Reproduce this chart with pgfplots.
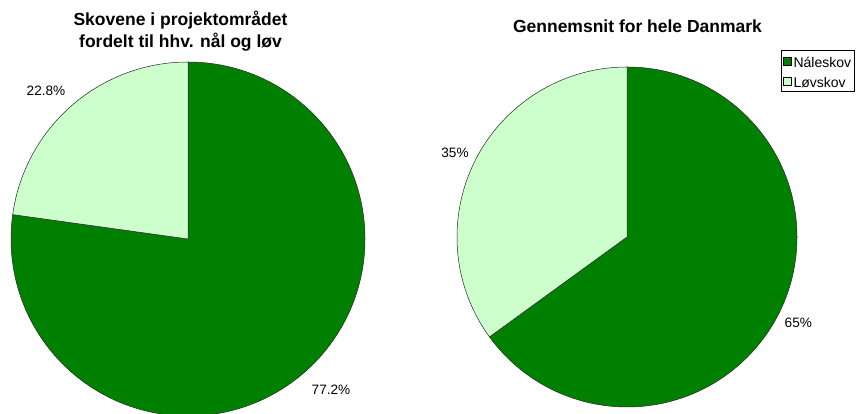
\documentclass[border=0pt]{standalone}
\usepackage{fontspec}
\setmainfont{Liberation Sans}
\usepackage{pgfplots}
\pgfplotsset{compat=1.18}
\definecolor{dkgreen}{RGB}{0,128,0}
\definecolor{ltgreen}{RGB}{204,255,204}
% data (percent)
\def\LeftNaal{77.2}\def\LeftLoev{22.8}
\def\RightNaal{65}\def\RightLoev{35}
\newcommand\legstrut{\rule[-5.5pt]{0pt}{20pt}}
\begin{document}
\begin{tikzpicture}
\begin{axis}[name=ax, x=1pt, y=1pt, scale only axis,
  xmin=0, xmax=856, ymin=0, ymax=414, hide axis, clip=true,
  legend style={at={(0.9988,0.8792)}, anchor=north east, draw=black,
    line width=0.6pt, fill=white, font=\fontsize{14}{16}\selectfont,
    inner xsep=1.5pt, inner ysep=0.5pt, row sep=0pt, cells={anchor=west}},
  legend image code/.code={\draw[#1, line width=0.5pt] (0pt,-4pt) rectangle (8pt,4pt);},
]
\addlegendimage{fill=dkgreen, draw=black}
\addlegendentry{\legstrut\fontsize{14}{16}\selectfont Náleskov}
\addlegendimage{fill=ltgreen, draw=black}
\addlegendentry{\legstrut\fontsize{14}{16}\selectfont Løvskov}
% left pie
\pgfmathsetmacro\aL{90-3.6*\LeftNaal}
\filldraw[fill=dkgreen, draw=black!85, line width=0.5pt] (axis cs:188,175) -- ++(90:177pt) arc[start angle=90, end angle=\aL, radius=177pt] -- cycle;
\filldraw[fill=ltgreen, draw=black!85, line width=0.5pt] (axis cs:188,175) -- ++(\aL:177pt) arc[start angle=\aL, end angle=-270, radius=177pt] -- cycle;
% right pie
\pgfmathsetmacro\aR{90-3.6*\RightNaal}
\filldraw[fill=dkgreen, draw=black!85, line width=0.5pt] (axis cs:627,177) -- ++(90:170pt) arc[start angle=90, end angle=\aR, radius=170pt] -- cycle;
\filldraw[fill=ltgreen, draw=black!85, line width=0.5pt] (axis cs:627,177) -- ++(\aR:170pt) arc[start angle=\aR, end angle=-270, radius=170pt] -- cycle;
% titles
\node[anchor=base, font=\fontsize{17.5}{22}\selectfont\bfseries] at (axis cs:180.5,388) {Skovene i projektområdet};
\node[anchor=base, font=\fontsize{17.5}{22}\selectfont\bfseries] at (axis cs:180.5,366) {fordelt til hhv. nål og løv};
\node[anchor=base, font=\fontsize{17.5}{22}\selectfont\bfseries] at (axis cs:637.5,381.7) {Gennemsnit for hele Danmark};
% data labels
\node[font=\fontsize{13.6}{16}\selectfont] at (axis cs:46,323.5) {\LeftLoev\%};
\node[font=\fontsize{13.6}{16}\selectfont] at (axis cs:331,24) {\LeftNaal\%};
\node[font=\fontsize{13.6}{16}\selectfont] at (axis cs:455,261) {\RightLoev\%};
\node[font=\fontsize{13.6}{16}\selectfont] at (axis cs:798.3,91) {\RightNaal\%};
\end{axis}
\pgfresetboundingbox
\path (ax.south west) rectangle (ax.north east);
\end{tikzpicture}
\end{document}
